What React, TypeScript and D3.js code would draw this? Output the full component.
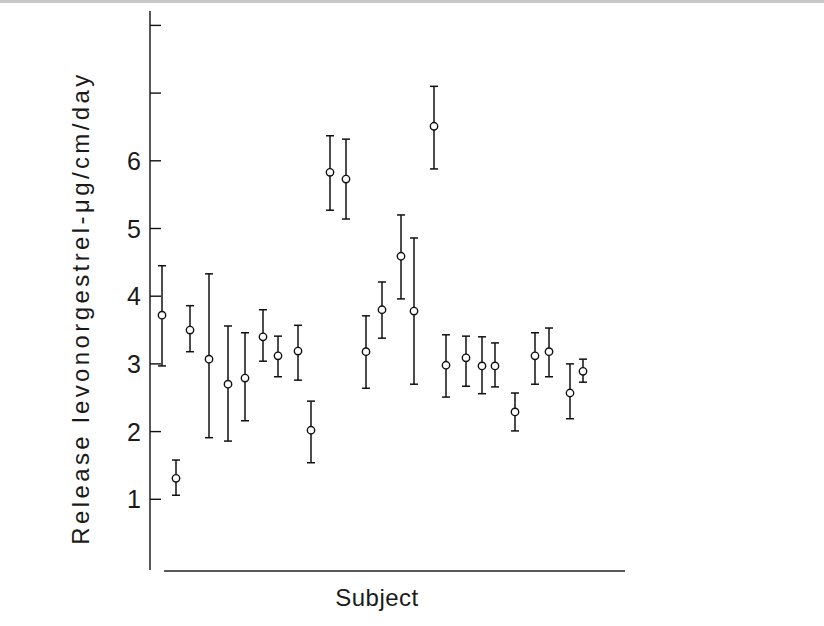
import React from "react";
import * as d3 from "d3";

const subjectPos = [1.2, 2.6, 4.0, 5.9, 7.8, 9.5, 11.3, 12.8, 14.8, 16.1, 18.0, 19.6, 21.6, 23.2, 25.1, 26.4, 28.4, 29.6, 31.6, 33.2, 34.5, 36.5, 38.5, 39.9, 42.0, 43.3];
const meanRelease = [3.72, 1.31, 3.50, 3.07, 2.70, 2.79, 3.40, 3.12, 3.19, 2.02, 5.83, 5.73, 3.18, 3.80, 4.59, 3.78, 6.51, 2.98, 3.09, 2.97, 2.97, 2.29, 3.12, 3.18, 2.57, 2.89];
const upperRelease = [4.45, 1.58, 3.86, 4.33, 3.56, 3.46, 3.80, 3.41, 3.57, 2.45, 6.37, 6.32, 3.71, 4.21, 5.20, 4.86, 7.10, 3.43, 3.41, 3.40, 3.31, 2.57, 3.46, 3.53, 3.00, 3.07];
const lowerRelease = [2.97, 1.06, 3.18, 1.91, 1.86, 2.16, 3.04, 2.81, 2.76, 1.54, 5.27, 5.14, 2.64, 3.38, 3.96, 2.70, 5.88, 2.51, 2.67, 2.56, 2.66, 2.01, 2.70, 2.81, 2.19, 2.73];
const yTicks = [1, 2, 3, 4, 5, 6, 7, 8];
const yTickLabels = ["1", "2", "3", "4", "5", "6", "", ""];

export default function App() {
  const W = 824, H = 626;
  const x = d3.scaleLinear().domain([0, 47.5]).range([150, 625]);
  const y = d3.scaleLinear().domain([0, 8]).range([567, 25.4]);
  const font = "'Liberation Sans', Arial, sans-serif";
  const cap = 4;
  return (
    <svg width={W} height={H} style={{ position: "absolute", left: 0, top: 0 }} fontFamily={font}>
      <rect x={0} y={0} width={W} height={H} fill="#fff" />
      <line x1={0} x2={W} y1={1.5} y2={1.5} stroke="#c8c8c8" strokeWidth={3} />
      {/* y axis */}
      <line x1={150} x2={150} y1={11} y2={570} stroke="#111" strokeWidth={1.4} />
      {yTicks.map((t, i) => (
        <g key={t}>
          <line x1={150} x2={161} y1={y(t)} y2={y(t)} stroke="#111" strokeWidth={1.4} />
          {yTickLabels[i] && (
            <text x={141} y={y(t)} dy="0.36em" textAnchor="end" fontSize={25} fill="#1a1a1a">
              {yTickLabels[i]}
            </text>
          )}
        </g>
      ))}
      {/* x axis */}
      <line x1={164} x2={625} y1={571} y2={571} stroke="#222" strokeWidth={1.3} />
      <text x={377} y={606} textAnchor="middle" fontSize={24} fill="#1a1a1a" letterSpacing={0.5}>Subject</text>
      <text transform="translate(89,308) rotate(-90)" textAnchor="middle" fontSize={24} fill="#1a1a1a" letterSpacing={3.4}>
        Release levonorgestrel-μg/cm/day
      </text>
      {meanRelease.map((m, i) => {
        const cx = x(subjectPos[i]);
        const yu = y(upperRelease[i]);
        const yl = y(lowerRelease[i]);
        return (
          <g key={i} stroke="#111" strokeWidth={1.5} fill="none">
            <line x1={cx} x2={cx} y1={yu} y2={yl} />
            <line x1={cx - cap} x2={cx + cap} y1={yu} y2={yu} />
            <line x1={cx - cap} x2={cx + cap} y1={yl} y2={yl} />
            <circle cx={cx} cy={y(m)} r={3.7} fill="#fff" strokeWidth={1.4} />
          </g>
        );
      })}
    </svg>
  );
}
